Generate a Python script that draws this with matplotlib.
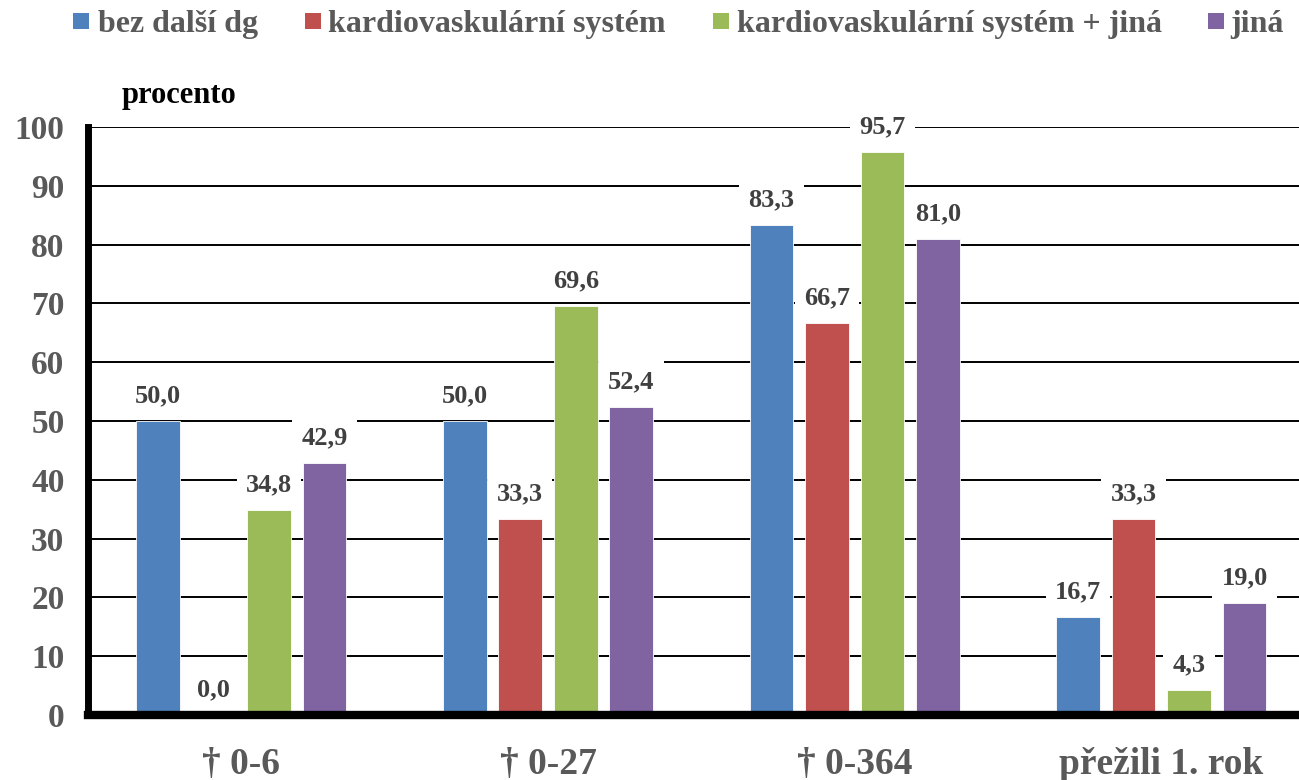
import matplotlib
matplotlib.use("Agg")
import matplotlib.pyplot as plt
import numpy as np
from matplotlib.patches import Rectangle

categories = ["† 0-6", "† 0-27", "† 0-364", "přežili 1. rok"]
series_names = ["bez další dg", "kardiovaskulární systém", "kardiovaskulární systém + jiná", "jiná"]
bez_dalsi = [50.0, 50.0, 83.3, 16.7]
kardio = [0.0, 33.3, 66.7, 33.3]
kardio_jina = [34.8, 69.6, 95.7, 4.3]
jina = [42.9, 52.4, 81.0, 19.0]
colors = ["#4F81BD", "#C0504D", "#9BBB59", "#8064A2"]
yticks = [0, 10, 20, 30, 40, 50, 60, 70, 80, 90, 100]

plt.rcParams['font.family'] = ['Liberation Serif', 'DejaVu Serif']
plt.rcParams['font.weight'] = 'bold'

W, H = 1299, 780
fig = plt.figure(figsize=(W/100, H/100), dpi=100)
ax = fig.add_axes([88/W, 1-715/H, (1299-88)/W, (715-127)/H])

data = [bez_dalsi, kardio, kardio_jina, jina]
x = np.arange(len(categories))
step = 0.181
width = 0.142
for k, (vals, col) in enumerate(zip(data, colors)):
    pos = x + (k - 1.5) * step
    ax.bar(pos, vals, width, color=col, edgecolor='white', linewidth=0.6, zorder=3)
    for xi, v in zip(pos, vals):
        ax.annotate(f"{v:.1f}".replace('.', ','), xy=(xi, v), xytext=(0, 10),
                    textcoords='offset points', ha='center', va='bottom',
                    fontsize=19, fontweight='bold', color='#404040', zorder=5,
                    bbox=dict(boxstyle='square,pad=0.35', facecolor='white', edgecolor='none'),
                    annotation_clip=False)

ax.set_xlim(-0.5, 3.449)
ax.set_ylim(0, 100)
ax.set_yticks(yticks)
ax.set_yticklabels([str(t) for t in yticks], fontsize=24, fontweight='bold', color='#595959')
ax.set_xticks(x)
ax.set_xticklabels(categories, fontsize=27, fontweight='bold', color='#595959')
ax.tick_params(axis='y', length=0, pad=17)
ax.tick_params(axis='x', length=0, pad=23)
ax.grid(axis='y', color='black', linewidth=1.4, zorder=0)
ax.set_axisbelow(True)
for s in ['top', 'right']:
    ax.spines[s].set_visible(False)
ax.spines['left'].set_linewidth(5)
ax.spines['bottom'].set_linewidth(6)
ax.spines['left'].set_zorder(6)
ax.spines['bottom'].set_zorder(6)

fig.text(122/W, 1-103/H, "procento", fontsize=22, fontweight='bold', color='black', va='baseline', ha='left')

# legend (manual placement)
sq_x = [73, 305, 713, 1208]
txt_x = [98, 328, 737, 1230]
for name, col, sx, tx in zip(series_names, colors, sq_x, txt_x):
    fig.patches.append(Rectangle((sx/W, 1-29/H), 16/W, 16/H, transform=fig.transFigure,
                                 facecolor=col, edgecolor='none'))
    fig.text(tx/W, 1-32/H, name, fontsize=23, fontweight='bold', color='#595959',
             va='baseline', ha='left')

fig.savefig("out.png", dpi=100)
